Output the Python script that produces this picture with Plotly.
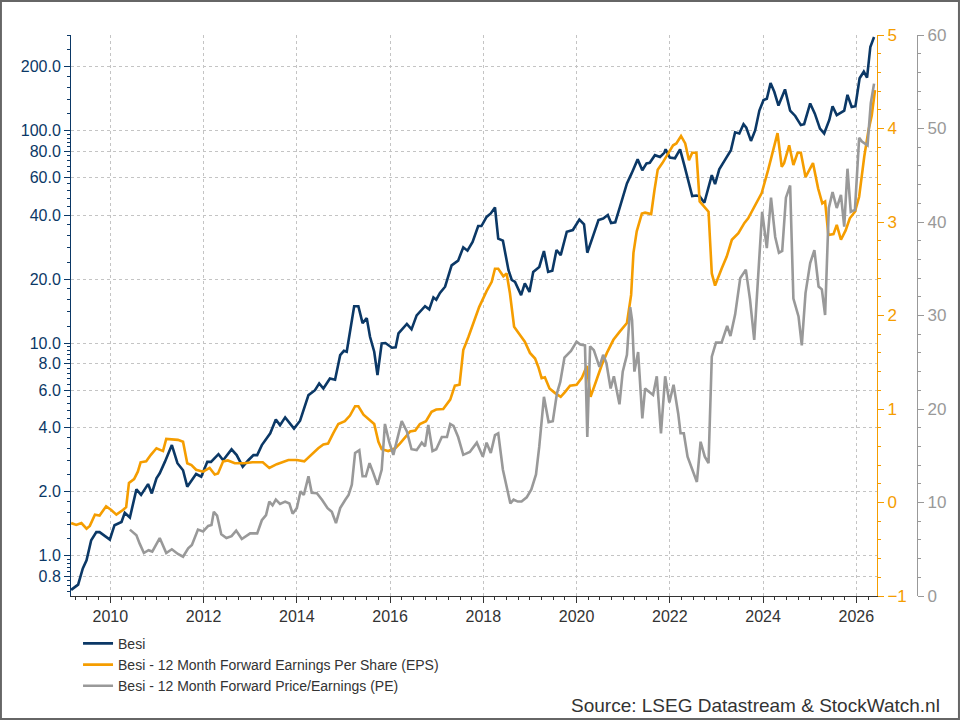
import plotly.graph_objs as go

# Besi koers (log-schaal, linker as)
t_besi = [2009.16, 2009.31, 2009.41, 2009.49, 2009.59, 2009.70, 2009.77, 2009.99, 2010.09, 2010.24,
          2010.31, 2010.42, 2010.56, 2010.66, 2010.81, 2010.89, 2010.99, 2011.06, 2011.17, 2011.32,
          2011.44, 2011.56, 2011.65, 2011.84, 2011.95, 2012.08, 2012.16, 2012.32, 2012.42, 2012.60,
          2012.71, 2012.84, 2012.96, 2013.07, 2013.15, 2013.25, 2013.43, 2013.55, 2013.64, 2013.75,
          2013.94, 2014.07, 2014.25, 2014.39, 2014.48, 2014.57, 2014.71, 2014.82, 2014.93, 2015.01,
          2015.07, 2015.23, 2015.32, 2015.41, 2015.50, 2015.57, 2015.66, 2015.73, 2015.82, 2015.90,
          2016.04, 2016.12, 2016.18, 2016.36, 2016.46, 2016.57, 2016.75, 2016.84, 2016.93, 2016.99,
          2017.07, 2017.18, 2017.32, 2017.46, 2017.57, 2017.66, 2017.77, 2017.89, 2017.96, 2018.07,
          2018.16, 2018.25, 2018.32, 2018.42, 2018.54, 2018.61, 2018.68, 2018.81, 2018.89, 2018.99,
          2019.07, 2019.20, 2019.30, 2019.39, 2019.48, 2019.57, 2019.66, 2019.79, 2019.92, 2020.06,
          2020.16, 2020.23, 2020.36, 2020.47, 2020.57, 2020.67, 2020.74, 2020.83, 2020.93, 2021.08,
          2021.18, 2021.31, 2021.41, 2021.50, 2021.57, 2021.68, 2021.79, 2021.88, 2021.91, 2022.00,
          2022.11, 2022.22, 2022.31, 2022.40, 2022.48, 2022.57, 2022.64, 2022.74, 2022.90, 2022.97,
          2023.06, 2023.18, 2023.31, 2023.40, 2023.49, 2023.58, 2023.64, 2023.74, 2023.83, 2023.92,
          2024.01, 2024.08, 2024.16, 2024.24, 2024.33, 2024.47, 2024.58, 2024.69, 2024.81, 2024.88,
          2025.01, 2025.11, 2025.22, 2025.31, 2025.42, 2025.49, 2025.58, 2025.74, 2025.81, 2025.90,
          2025.98, 2026.07, 2026.16, 2026.23, 2026.30, 2026.38]
besi = [0.69, 0.73, 0.87, 0.95, 1.18, 1.29, 1.29, 1.19, 1.39, 1.44,
        1.59, 1.51, 2.05, 1.93, 2.17, 1.96, 2.31, 2.44, 2.76, 3.31,
        2.72, 2.52, 2.11, 2.42, 2.35, 2.76, 2.76, 3.00, 2.81, 3.16,
        2.97, 2.62, 2.81, 2.97, 2.97, 3.31, 3.76, 4.37, 4.11, 4.47,
        3.96, 4.31, 5.69, 6.0, 6.46, 6.11, 6.81, 6.72, 8.77, 9.19,
        9.1, 14.9, 14.9, 12.4, 13.1, 10.7, 9.1, 7.06, 9.96, 10.0,
        9.5, 9.55, 11.1, 12.3, 11.6, 13.5, 14.9, 14.4, 16.4, 16.0,
        17.2, 18.4, 23.2, 24.4, 28.2, 27.2, 29.9, 35.5, 35.5, 39.2,
        40.7, 43.4, 31.0, 30.3, 22.0, 19.8, 19.4, 16.8, 19.1, 17.4,
        21.6, 22.8, 27.1, 21.6, 21.9, 27.4, 25.9, 33.4, 34.0, 38.1,
        36.2, 26.6, 32.2, 37.9, 38.5, 40.0, 36.7, 37.0, 43.7, 56.3,
        62.8, 73.1, 65.0, 70.0, 70.5, 76.5, 75.0, 78.5, 81.5, 74.6,
        74.0, 81.5, 68.7, 58.4, 49.1, 49.4, 49.0, 45.7, 61.6, 55.9,
        65.6, 72.5, 80.8, 98.0, 96.8, 107, 103, 89.3, 100, 124,
        139, 141, 167, 152, 131, 156, 124, 117, 106, 107,
        134, 120, 102, 96.8, 112, 130, 118, 124, 147, 129,
        130, 176, 189, 177, 247, 275]

# 12 maanden vooruit winst per aandeel (EPS)
t_eps = [2009.16, 2009.27, 2009.38, 2009.49, 2009.56, 2009.67, 2009.77, 2009.91, 2010.02, 2010.13,
         2010.27, 2010.34, 2010.40, 2010.51, 2010.59, 2010.65, 2010.77, 2010.87, 2010.99, 2011.13,
         2011.20, 2011.45, 2011.56, 2011.65, 2011.74, 2011.84, 2011.99, 2012.13, 2012.24, 2012.31,
         2012.42, 2012.52, 2012.67, 2012.87, 2013.05, 2013.27, 2013.41, 2013.57, 2013.82, 2014.00,
         2014.16, 2014.32, 2014.46, 2014.57, 2014.67, 2014.78, 2014.89, 2015.03, 2015.14, 2015.25,
         2015.32, 2015.43, 2015.56, 2015.66, 2015.75, 2015.82, 2015.96, 2016.11, 2016.21, 2016.43,
         2016.54, 2016.64, 2016.77, 2016.89, 2016.99, 2017.14, 2017.29, 2017.39, 2017.49, 2017.57,
         2017.68, 2017.79, 2017.91, 2018.07, 2018.18, 2018.25, 2018.32, 2018.43, 2018.50, 2018.57,
         2018.66, 2018.79, 2018.89, 2019.00, 2019.11, 2019.18, 2019.25, 2019.32, 2019.42, 2019.54,
         2019.66, 2019.75, 2019.86, 2020.00, 2020.11, 2020.22, 2020.30, 2020.42, 2020.54, 2020.65,
         2020.79, 2020.93, 2021.08, 2021.17, 2021.22, 2021.29, 2021.40, 2021.47, 2021.60, 2021.67,
         2021.74, 2021.84, 2021.97, 2022.07, 2022.14, 2022.24, 2022.33, 2022.41, 2022.48, 2022.57,
         2022.64, 2022.83, 2022.90, 2022.97, 2023.11, 2023.22, 2023.33, 2023.47, 2023.60, 2023.68,
         2023.97, 2024.11, 2024.31, 2024.40, 2024.45, 2024.56, 2024.65, 2024.74, 2024.81, 2024.91,
         2025.07, 2025.18, 2025.27, 2025.33, 2025.40, 2025.51, 2025.58, 2025.67, 2025.77, 2025.86,
         2025.97, 2026.06, 2026.17, 2026.26, 2026.33, 2026.40]
eps = [-0.22, -0.24, -0.22, -0.28, -0.25, -0.13, -0.14, -0.04, -0.08, -0.13,
       -0.08, -0.05, 0.21, 0.25, 0.33, 0.43, 0.44, 0.51, 0.58, 0.55,
       0.68, 0.67, 0.65, 0.42, 0.40, 0.35, 0.33, 0.37, 0.30, 0.31,
       0.44, 0.45, 0.42, 0.42, 0.43, 0.43, 0.37, 0.41, 0.455, 0.455,
       0.44, 0.515, 0.58, 0.62, 0.63, 0.74, 0.84, 0.87, 0.93, 1.03,
       1.03, 0.94, 0.88, 0.84, 0.65, 0.57, 0.55, 0.58, 0.63, 0.76,
       0.77, 0.84, 0.87, 0.97, 0.995, 1.0, 1.10, 1.25, 1.26, 1.63,
       1.77, 1.92, 2.09, 2.26, 2.36, 2.50, 2.50, 2.42, 2.45, 2.24,
       1.88, 1.79, 1.72, 1.60, 1.54, 1.45, 1.33, 1.34, 1.22, 1.17,
       1.13, 1.18, 1.25, 1.26, 1.33, 1.46, 1.13, 1.30, 1.47, 1.60,
       1.74, 1.83, 1.92, 2.22, 2.67, 2.90, 3.09, 3.10, 3.085, 3.34,
       3.56, 3.63, 3.74, 3.82, 3.84, 3.92, 3.84, 3.66, 3.74, 3.74,
       3.22, 3.11, 2.45, 2.32, 2.50, 2.63, 2.81, 2.88, 2.99, 3.04,
       3.31, 3.56, 3.95, 3.59, 3.63, 3.82, 3.61, 3.74, 3.74, 3.48,
       3.63, 3.36, 3.20, 3.22, 2.86, 2.87, 2.97, 2.81, 2.91, 3.04,
       3.11, 3.27, 3.70, 3.98, 4.14, 4.41]

# 12 maanden vooruit koers/winst (PE)
t_pe = [2010.42, 2010.56, 2010.63, 2010.72, 2010.82, 2010.90, 2011.06, 2011.20, 2011.32, 2011.45,
        2011.56, 2011.67, 2011.75, 2011.88, 2011.99, 2012.10, 2012.17, 2012.22, 2012.29, 2012.38,
        2012.49, 2012.60, 2012.70, 2012.82, 2013.00, 2013.15, 2013.25, 2013.34, 2013.41, 2013.48,
        2013.55, 2013.64, 2013.75, 2013.84, 2013.91, 2014.00, 2014.08, 2014.15, 2014.25, 2014.32,
        2014.43, 2014.54, 2014.66, 2014.75, 2014.84, 2014.93, 2015.04, 2015.11, 2015.18, 2015.25,
        2015.34, 2015.41, 2015.48, 2015.56, 2015.63, 2015.73, 2015.82, 2015.89, 2015.98, 2016.07,
        2016.25, 2016.36, 2016.46, 2016.57, 2016.68, 2016.75, 2016.82, 2016.91, 2016.99, 2017.11,
        2017.22, 2017.29, 2017.36, 2017.46, 2017.57, 2017.71, 2017.86, 2017.99, 2018.07, 2018.16,
        2018.25, 2018.32, 2018.42, 2018.49, 2018.58, 2018.65, 2018.74, 2018.82, 2018.93, 2019.03,
        2019.13, 2019.20, 2019.30, 2019.40, 2019.49, 2019.58, 2019.65, 2019.74, 2019.88, 2020.00,
        2020.08, 2020.18, 2020.23, 2020.29, 2020.37, 2020.49, 2020.57, 2020.64, 2020.73, 2020.80,
        2020.92, 2020.99, 2021.08, 2021.15, 2021.19, 2021.24, 2021.32, 2021.41, 2021.47, 2021.54,
        2021.64, 2021.72, 2021.81, 2021.90, 2021.99, 2022.08, 2022.18, 2022.23, 2022.30, 2022.38,
        2022.47, 2022.58, 2022.66, 2022.75, 2022.83, 2022.90, 2022.99, 2023.11, 2023.23, 2023.30,
        2023.40, 2023.51, 2023.63, 2023.72, 2023.81, 2023.90, 2023.98, 2024.08, 2024.17, 2024.26,
        2024.34, 2024.41, 2024.49, 2024.58, 2024.65, 2024.76, 2024.83, 2024.91, 2025.01, 2025.10,
        2025.19, 2025.26, 2025.33, 2025.41, 2025.49, 2025.58, 2025.67, 2025.74, 2025.81, 2025.88,
        2025.97, 2026.06, 2026.12, 2026.24, 2026.31, 2026.38]
pe = [7.1, 6.5, 5.6, 4.6, 4.9, 4.75, 6.2, 4.6, 5.0, 4.5,
      4.2, 5.1, 5.45, 7.1, 6.9, 7.5, 7.6, 9.0, 8.6, 6.6,
      6.2, 6.4, 7.0, 6.1, 6.7, 6.7, 8.1, 8.65, 10.1, 9.7,
      10.3, 9.85, 10.1, 9.9, 8.8, 9.4, 11.2, 10.8, 12.8, 11.05,
      11.0, 10.3, 9.4, 9.0, 7.8, 9.4, 10.3, 10.8, 11.9, 15.3,
      15.6, 12.8, 12.8, 14.2, 13.3, 11.9, 13.5, 18.4, 16.5, 15.1,
      18.7, 17.6, 15.7, 15.6, 16.4, 16.0, 18.3, 15.5, 15.7, 17.0,
      17.0, 18.4, 18.2, 17.0, 15.1, 15.4, 16.4, 14.9, 16.4, 15.3,
      17.2, 17.4, 13.5, 11.9, 9.9, 10.3, 10.1, 10.1, 10.55, 11.4,
      13.0, 16.0, 21.3, 18.6, 18.7, 21.7, 22.9, 25.5, 26.2, 27.2,
      26.9, 26.8, 17.0, 26.7, 26.3, 24.5, 25.8, 24.9, 22.2, 23.5,
      20.5, 24.0, 25.8, 30.9, 29.5, 24.0, 26.1, 19.0, 22.2, 21.9,
      21.5, 23.5, 17.4, 23.5, 20.7, 22.6, 19.5, 17.4, 17.4, 14.9,
      13.7, 12.2, 16.5, 14.9, 14.2, 25.6, 27.1, 27.1, 28.9, 27.8,
      30.1, 34.0, 34.9, 31.7, 27.4, 34.9, 41.1, 37.2, 42.6, 38.4,
      36.7, 36.9, 42.6, 43.9, 31.8, 29.9, 26.8, 32.4, 35.6, 37.0,
      33.1, 32.8, 30.05, 41.5, 43.2, 41.5, 42.9, 39.5, 45.7, 41.1,
      41.3, 49.0, 48.6, 48.2, 52.7, 54.8]

y_ticks = [0.8, 1.0, 2.0, 4.0, 6.0, 8.0, 10.0, 20.0, 40.0, 60.0, 80.0, 100.0, 200.0]
x_ticks = [2010, 2012, 2014, 2016, 2018, 2020, 2022, 2024, 2026]

BLUE = '#0b3866'
ORANGE = '#f59d00'
GRAY = '#999999'
GRID = '#c4c4c4'

# kleine streepjes op de log-as: 4 tussen elke twee hoofdstreepjes
minor_y = []
for a, b in zip([0.6] + y_ticks, y_ticks + [400.0]):
    for k in range(1, 5):
        minor_y.append(a + (b - a) * k / 5)

fig = go.Figure()
fig.add_trace(go.Scatter(x=t_besi, y=besi, name='Besi', mode='lines',
                         line=dict(color=BLUE, width=2.6), yaxis='y'))
fig.add_trace(go.Scatter(x=t_eps, y=eps, name='Besi - 12 Month Forward Earnings Per Share (EPS)', mode='lines',
                         line=dict(color=ORANGE, width=2.6), yaxis='y2'))
fig.add_trace(go.Scatter(x=t_pe, y=pe, name='Besi - 12 Month Forward Price/Earnings (PE)', mode='lines',
                         line=dict(color=GRAY, width=2.6), yaxis='y3'))

fig.update_layout(
    width=960, height=720,
    margin=dict(l=71, r=10, t=35, b=124),
    paper_bgcolor='white', plot_bgcolor='white',
    font=dict(family='Liberation Sans, Arial, sans-serif', size=16, color='#333333'),
    showlegend=True,
    legend=dict(x=0.008, y=-0.0567, xanchor='left', yanchor='top', orientation='v',
                font=dict(size=14, color='#333333'), tracegroupgap=0, itemwidth=30,
                bgcolor='rgba(0,0,0,0)'),
    xaxis=dict(domain=[0, 0.917], range=[2009.157, 2026.444], tickvals=x_ticks, tickformat='d',
               showline=True, linecolor='#333333', linewidth=1, ticks='outside', ticklen=6,
               tickcolor='#333333', showgrid=True, gridcolor=GRID, griddash='dot', gridwidth=1,
               zeroline=False, tickfont=dict(size=16, color='#333333'),
               minor=dict(tickmode='linear', dtick=0.25, tick0=2010, ticks='outside', ticklen=3,
                          tickcolor='#333333', showgrid=False)),
    yaxis=dict(type='log', range=[-0.19, 2.449], tickvals=y_ticks, tickformat='.1f',
               showline=True, linecolor=BLUE, linewidth=1, ticks='outside', ticklen=6,
               tickcolor=BLUE, showgrid=True, gridcolor=GRID, griddash='dot', gridwidth=1,
               zeroline=False, tickfont=dict(size=16, color=BLUE),
               minor=dict(tickmode='array', tickvals=minor_y, ticks='outside', ticklen=3,
                          tickcolor=BLUE, showgrid=False)),
    yaxis2=dict(overlaying='y', side='right', anchor='x', range=[-1, 5], dtick=1,
                showline=True, linecolor=ORANGE, linewidth=1, ticks='outside', ticklen=6,
                tickcolor=ORANGE, showgrid=False, zeroline=False,
                tickfont=dict(size=17, color=ORANGE),
                minor=dict(dtick=0.2, ticks='outside', ticklen=3, tickcolor=ORANGE, showgrid=False)),
    yaxis3=dict(overlaying='y', side='right', anchor='free', position=0.9625, range=[0, 60], dtick=10,
                showline=True, linecolor=GRAY, linewidth=1, ticks='outside', ticklen=6,
                tickcolor=GRAY, showgrid=False, zeroline=False,
                tickfont=dict(size=17, color=GRAY),
                minor=dict(dtick=2, ticks='outside', ticklen=3, tickcolor=GRAY, showgrid=False)),
)

fig.add_annotation(text='Source: LSEG Datastream & StockWatch.nl', xref='paper', yref='paper',
                   x=0.991, y=-0.2175, xanchor='right', yanchor='bottom', showarrow=False,
                   font=dict(size=19, color='#333333'))

# kader rond de hele afbeelding
fig.add_shape(type='rect', xref='paper', yref='paper', x0=-0.0797, x1=1.0102, y0=-0.2193, y1=1.0606,
              line=dict(color='#666666', width=2), fillcolor='rgba(0,0,0,0)', layer='above')

fig.write_html("out.html", config={'displayModeBar': False},
               post_script="document.body.style.margin='0px';")
